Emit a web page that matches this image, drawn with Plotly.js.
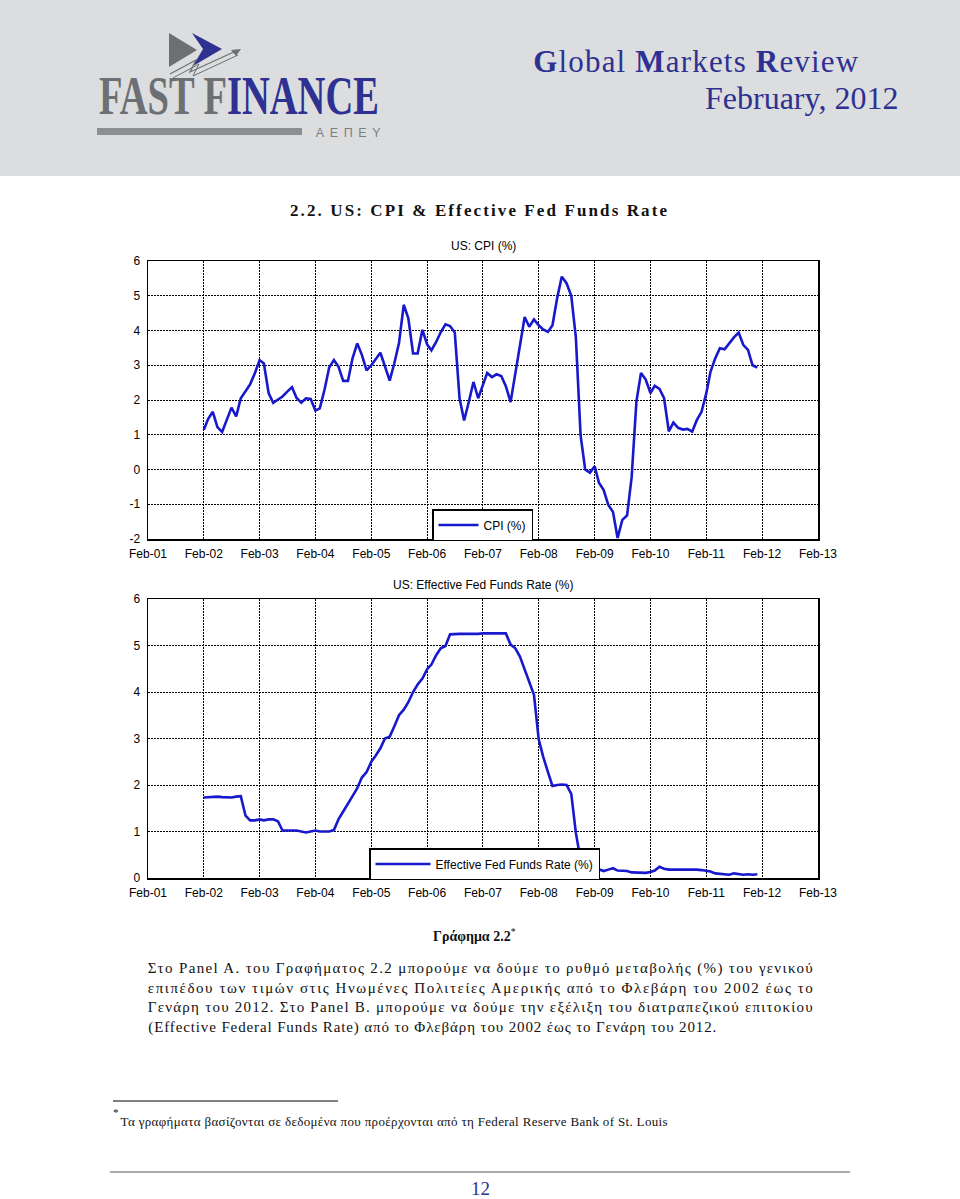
<!DOCTYPE html>
<html>
<head>
<meta charset="utf-8">
<script src="https://cdn.plot.ly/plotly-3.0.1.min.js"></script>
<style>
html,body{margin:0;padding:0;background:#fff;}
#chart{width:960px;height:1199px;}
</style>
</head>
<body>
<div id="chart"></div>
<script>
// ---------------- DATA ----------------
const startYear = 2002, startMonth = 2, nMonths = 120; // Feb-2002 .. Jan-2012
const tickYears = [2001,2002,2003,2004,2005,2006,2007,2008,2009,2010,2011,2012,2013];
const tickLabels = ["Feb-01","Feb-02","Feb-03","Feb-04","Feb-05","Feb-06","Feb-07","Feb-08","Feb-09","Feb-10","Feb-11","Feb-12","Feb-13"];
const cpiTickVals = [-2,-1,0,1,2,3,4,5,6];
const cpiTickText = ["-2","-1","0","1","2","3","4","5","6"];
const ffTickVals = [0,1,2,3,4,5,6];
const ffTickText = ["0","1","2","3","4","5","6"];

const cpi2002 = [1.14,1.45,1.66,1.22,1.08,1.45,1.78,1.53,2.05,2.25,2.45];           // Feb-Dec 2002
const cpi2003 = [2.77,3.15,3.05,2.20,1.92,2.00,2.10,2.24,2.37,2.06,1.92,2.05];
const cpi2004 = [2.03,1.70,1.76,2.30,2.93,3.15,2.96,2.55,2.55,3.20,3.63,3.30];
const cpi2005 = [2.85,3.00,3.17,3.36,2.97,2.56,3.05,3.64,4.74,4.35,3.34,3.34];
const cpi2006 = [4.02,3.60,3.43,3.67,3.95,4.18,4.13,3.94,2.05,1.41,1.95,2.52];
const cpi2007 = [2.05,2.45,2.78,2.66,2.74,2.69,2.40,1.94,2.75,3.57,4.39,4.11];
const cpi2008 = [4.32,4.15,4.03,3.96,4.15,4.94,5.55,5.36,5.00,3.80,0.98,0.00];
const cpi2009 = [-0.09,0.09,-0.38,-0.59,-1.02,-1.22,-1.97,-1.45,-1.32,-0.22,1.95,2.78];
const cpi2010 = [2.59,2.20,2.41,2.32,2.05,1.10,1.35,1.20,1.15,1.17,1.09,1.42];
const cpi2011 = [1.66,2.19,2.82,3.20,3.49,3.46,3.63,3.80,3.94,3.59,3.44,3.00];
const cpi2012 = [2.93];                                                              // Jan 2012

const ff2002 = [1.73,1.74,1.75,1.75,1.74,1.73,1.73,1.75,1.76,1.34,1.24];
const ff2003 = [1.24,1.26,1.24,1.26,1.26,1.22,1.02,1.02,1.02,1.02,1.00,0.98];
const ff2004 = [1.00,1.02,1.00,1.00,1.00,1.03,1.26,1.43,1.61,1.76,1.93,2.16];
const ff2005 = [2.28,2.50,2.63,2.79,3.00,3.04,3.26,3.50,3.62,3.78,4.00,4.16];
const ff2006 = [4.29,4.49,4.59,4.79,4.94,4.99,5.24,5.25,5.25,5.25,5.25,5.24];
const ff2007 = [5.25,5.26,5.26,5.25,5.25,5.25,5.26,5.02,4.94,4.76,4.49,4.24];
const ff2008 = [3.94,2.98,2.61,2.28,1.98,2.00,2.01,2.00,1.81,0.97,0.39,0.16];
const ff2009 = [0.15,0.22,0.18,0.15,0.18,0.21,0.16,0.16,0.15,0.12,0.12,0.12];
const ff2010 = [0.11,0.13,0.16,0.24,0.20,0.18,0.18,0.19,0.19,0.19,0.19,0.18];
const ff2011 = [0.17,0.16,0.14,0.10,0.09,0.09,0.07,0.10,0.08,0.07,0.08,0.07];
const ff2012 = [0.08];

const cpiName = "CPI (%)";
const ffName = "Effective Fed Funds Rate (%)";

// ---------------- BUILD ----------------
const cpi = [].concat(cpi2002,cpi2003,cpi2004,cpi2005,cpi2006,cpi2007,cpi2008,cpi2009,cpi2010,cpi2011,cpi2012);
const ff = [].concat(ff2002,ff2003,ff2004,ff2005,ff2006,ff2007,ff2008,ff2009,ff2010,ff2011,ff2012);
const months = [];
for (let i = 0; i < nMonths; i++) {
  const m0 = startMonth - 1 + i;
  const y = startYear + Math.floor(m0 / 12);
  const m = (m0 % 12) + 1;
  months.push(y + "-" + String(m).padStart(2, "0") + "-01");
}
const tickVals = tickYears.map(y => y + "-02-01");

const W = 960, H = 1199;
const px = x => x / W;
const py = y => 1 - y / H;

const lineBlue = "#1818cc";
const navy = "#2e3192";
const logoGray = "#6d7072";
const axFont = {family: "Liberation Sans, Arial, sans-serif", size: 12, color: "#000"};

function xAx(anchor) {
  return {
    type: "date", anchor: anchor,
    domain: [px(148), px(818)],
    range: ["2001-02-01", "2013-02-01"],
    tickvals: tickVals, ticktext: tickLabels,
    showgrid: true, gridcolor: "#000", gridwidth: 1, griddash: "2px,1px",
    showline: true, mirror: true, linecolor: "#000", linewidth: 1.5,
    ticks: "outside", ticklen: 3, tickcolor: "rgba(0,0,0,0)",
    zeroline: false, tickfont: axFont, fixedrange: true
  };
}
function yAx(anchor, top, bottom, range, tv, tt) {
  return {
    anchor: anchor,
    domain: [py(bottom), py(top)],
    range: range, tickvals: tv, ticktext: tt,
    showgrid: true, gridcolor: "#000", gridwidth: 1, griddash: "2px,1px",
    showline: true, mirror: true, linecolor: "#000", linewidth: 1.5,
    ticks: "outside", ticklen: 4, tickcolor: "rgba(0,0,0,0)",
    zeroline: false, tickfont: axFont, fixedrange: true
  };
}

const data = [
  {x: months, y: cpi, type: "scatter", mode: "lines", name: cpiName,
   line: {color: lineBlue, width: 2.6}, xaxis: "x", yaxis: "y", legend: "legend"},
  {x: months, y: ff, type: "scatter", mode: "lines", name: ffName,
   line: {color: lineBlue, width: 2.6}, xaxis: "x2", yaxis: "y2", legend: "legend2"}
];

const serif = "Liberation Serif, Times New Roman, serif";
const annotations = [];
const fits = [];   // [annotationIndex, textLength, adjust]
const stretch = []; // [annotationIndex, vertical scale]
function ann(o) { annotations.push(Object.assign({xref: "paper", yref: "paper", showarrow: false}, o)); return annotations.length - 1; }

// header logo text (one text, stretched vertically after drawing)
let iLogo = ann({x: px(239), y: py(95.5), xanchor: "center", yanchor: "middle",
  text: "<b><span style='color:" + logoGray + "'>FAST F</span><span style='color:" + navy + "'>INANCE</span></b>",
  font: {family: serif, size: 38.5, color: navy}});
stretch.push([iLogo, 1.4]);
let iAepey = ann({x: px(348), y: py(133.5), xanchor: "center", yanchor: "middle", text: "ΑΕΠΕΥ",
  font: {family: "Liberation Sans, Arial, sans-serif", size: 12.5, color: "#7d8082"}});
fits.push([iAepey, 65, "spacing"]);
let iGmr = ann({x: px(695.5), y: py(62), xanchor: "center", yanchor: "middle",
  text: "<b>G</b>lobal <b>M</b>arkets <b>R</b>eview", font: {family: serif, size: 31, color: navy}});
fits.push([iGmr, 325, "spacing"]);
ann({x: px(900), y: py(98), xanchor: "right", yanchor: "middle",
  text: "February, 2012", font: {family: serif, size: 32, color: navy}});

// main title
let iTitle = ann({x: px(478.5), y: py(210), xanchor: "center", yanchor: "middle",
  text: "<b>2.2. US: CPI &amp; Effective Fed Funds Rate</b>", font: {family: serif, size: 17, color: "#111"}});
fits.push([iTitle, 377, "spacing"]);

// chart titles
ann({x: px(483), y: py(246), xanchor: "center", yanchor: "middle", text: "US: CPI (%)", font: axFont});
ann({x: px(483), y: py(585), xanchor: "center", yanchor: "middle", text: "US: Effective Fed Funds Rate (%)", font: axFont});

// caption & paragraph
ann({x: px(474), y: py(935), xanchor: "center", yanchor: "middle",
  text: "<b>Γράφημα 2.2</b><sup>*</sup>", font: {family: serif, size: 14, color: "#111"}});
const para = [
  "Στο Panel A. του Γραφήματος 2.2 μπορούμε να δούμε το ρυθμό μεταβολής (%) του γενικού",
  "επιπέδου των τιμών στις Ηνωμένες Πολιτείες Αμερικής από το Φλεβάρη του 2002 έως το",
  "Γενάρη του 2012. Στο Panel B. μπορούμε να δούμε την εξέλιξη του διατραπεζικού επιτοκίου",
  "(Effective Federal Funds Rate) από το Φλεβάρη του 2002 έως το Γενάρη του 2012."
];
const paraY = [968, 988, 1007, 1027];
const paraLeft = 148, paraRight = [813, 813, 813, 716];
para.forEach((t, k) => {
  const i = ann({x: px((paraLeft + paraRight[k]) / 2), y: py(paraY[k]), xanchor: "center", yanchor: "middle", text: t,
    font: {family: serif, size: 15, color: "#111"}});
  fits.push([i, paraRight[k] - paraLeft, "spacing"]);
});

// footnote
ann({x: px(111), y: py(1112), xanchor: "left", yanchor: "middle", text: "*", font: {family: serif, size: 11, color: "#111"}});
let iFoot = ann({x: px(393.5), y: py(1121), xanchor: "center", yanchor: "middle",
  text: "Τα γραφήματα βασίζονται σε δεδομένα που προέρχονται από τη Federal Reserve Bank of St. Louis",
  font: {family: serif, size: 13, color: "#111"}});
fits.push([iFoot, 547, "spacing"]);
ann({x: px(480), y: py(1188), xanchor: "center", yanchor: "middle", text: "12", font: {family: serif, size: 19, color: navy}});

function path(pts, close) {
  return pts.map((p, k) => (k ? "L" : "M") + px(p[0]) + "," + py(p[1])).join(" ") + (close ? " Z" : "");
}
const shapes = [
  {type: "rect", xref: "paper", yref: "paper", x0: 0, x1: 1, y0: py(176), y1: 1, fillcolor: "#dcdddf", line: {width: 0}, layer: "below"},
  {type: "path", xref: "paper", yref: "paper", path: path([[192,33],[222,49],[193,66],[203,49]], true), fillcolor: navy, line: {width: 0}},
  {type: "path", xref: "paper", yref: "paper", path: path([[169,33],[197,50],[169,67]], true), fillcolor: logoGray, line: {width: 0}},
  {type: "path", xref: "paper", yref: "paper", path: path([[170,74],[196,60],[190,72],[236,51]], false), line: {color: logoGray, width: 1.3}},
  {type: "path", xref: "paper", yref: "paper", path: path([[173,78],[199,64],[193,76],[238,55]], false), line: {color: logoGray, width: 1.0}},
  {type: "path", xref: "paper", yref: "paper", path: path([[241,49],[231,50],[236,56]], true), fillcolor: logoGray, line: {width: 0}},
  {type: "rect", xref: "paper", yref: "paper", x0: px(97), x1: px(302), y0: py(135), y1: py(128), fillcolor: "#8c8f91", line: {width: 0}},
  {type: "line", xref: "paper", yref: "paper", x0: px(113), x1: px(338), y0: py(1101), y1: py(1101), line: {color: "#000", width: 1}},
  {type: "line", xref: "paper", yref: "paper", x0: px(110), x1: px(850), y0: py(1172), y1: py(1172), line: {color: "#555", width: 1}}
];

const legendBase = {
  bgcolor: "#fff", bordercolor: "#000", borderwidth: 1.5,
  font: axFont, xanchor: "left", yanchor: "top", itemwidth: 40, tracegroupgap: 0
};

const layout = {
  width: W, height: H,
  margin: {l: 0, r: 0, t: 0, b: 0},
  paper_bgcolor: "#fff", plot_bgcolor: "#fff",
  showlegend: true,
  xaxis: xAx("y"),
  yaxis: yAx("x", 261, 539, [-2, 6], cpiTickVals, cpiTickText),
  xaxis2: xAx("y2"),
  yaxis2: yAx("x2", 599, 878, [0, 6], ffTickVals, ffTickText),
  legend: Object.assign({}, legendBase, {x: px(432), y: py(509)}),
  legend2: Object.assign({}, legendBase, {x: px(369), y: py(848), itemwidth: 55}),
  annotations: annotations,
  shapes: shapes
};

Plotly.newPlot("chart", data, layout, {staticPlot: true, displayModeBar: false}).then(gd => {
  const textOf = i => gd.querySelector('.annotation[data-index="' + i + '"] text.annotation-text');
  fits.forEach(([i, len, adj]) => {
    const t = textOf(i);
    if (t) {
      t.setAttribute("textLength", len);
      t.setAttribute("lengthAdjust", adj);
    }
  });
  stretch.forEach(([i, sy]) => {
    const t = textOf(i);
    if (t) {
      const bb = t.getBBox();
      const cx = bb.x + bb.width / 2, cy = bb.y + bb.height / 2;
      t.setAttribute("transform", "translate(" + cx + "," + cy + ") scale(1," + sy + ") translate(" + (-cx) + "," + (-cy) + ")");
    }
  });
});
</script>
</body>
</html>
